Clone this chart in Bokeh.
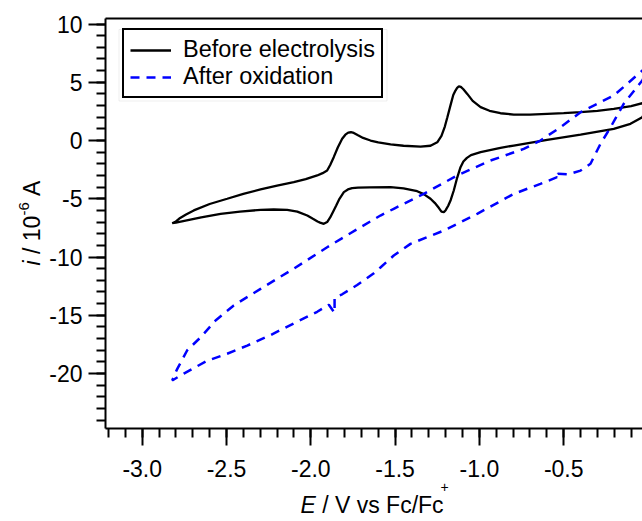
import math
from bokeh.plotting import figure
from bokeh.models import (Range1d, FixedTicker, LinearAxis, Label, BoxAnnotation,
                          CustomJSTickFormatter)
from bokeh.embed import file_html
from bokeh.resources import INLINE

# ---- data: cyclic voltammograms (E in V vs Fc/Fc+, i in 1e-6 A) ----
before_E = [0.02, -0.034, -0.104, -0.203, -0.40, -0.598, -0.796, -0.875, -0.993,
            -1.050, -1.074, -1.095, -1.112, -1.132, -1.152, -1.170, -1.185, -1.200,
            -1.211, -1.225, -1.240, -1.265, -1.290, -1.330, -1.369, -1.45, -1.527,
            -1.65, -1.720, -1.755, -1.780, -1.804, -1.830, -1.850, -1.864, -1.885,
            -1.903, -1.923, -1.945, -1.96, -1.990, -2.021, -2.08, -2.14, -2.22,
            -2.298, -2.42, -2.535, -2.65, -2.75, -2.80, -2.822,
            -2.80, -2.78, -2.74, -2.694, -2.60, -2.496, -2.40, -2.298, -2.20, -2.101,
            -2.03, -1.962, -1.930, -1.903, -1.885, -1.864, -1.840, -1.814, -1.795,
            -1.778, -1.762, -1.745, -1.720, -1.690, -1.646, -1.60, -1.527, -1.45,
            -1.349, -1.29, -1.25, -1.225, -1.205, -1.19, -1.170, -1.155, -1.142,
            -1.132, -1.122, -1.110, -1.095, -1.072, -1.04, -0.993, -0.94, -0.875,
            -0.796, -0.70, -0.598, -0.50, -0.40, -0.30, -0.203, -0.10, -0.034, 0.02]
before_i = [3.35, 2.00, 1.43, 1.00, 0.51, 0.06, -0.43, -0.63, -1.00,
            -1.25, -1.49, -1.80, -2.29, -3.20, -4.29, -5.10, -5.60, -5.98,
            -6.15, -6.10, -5.80, -5.35, -5.00, -4.60, -4.35, -4.10, -4.00,
            -4.02, -4.05, -4.09, -4.20, -4.43, -5.00, -5.60, -6.00, -6.60,
            -7.00, -7.15, -7.05, -6.95, -6.70, -6.44, -6.10, -5.95, -5.92,
            -5.95, -6.10, -6.29, -6.60, -6.90, -7.05, -7.10,
            -6.95, -6.70, -6.35, -6.00, -5.45, -5.00, -4.58, -4.20, -3.88, -3.58,
            -3.32, -3.00, -2.80, -2.58, -2.10, -1.43, -0.60, 0.15, 0.50,
            0.68, 0.71, 0.65, 0.45, 0.22, 0.00, -0.15, -0.34, -0.45,
            -0.52, -0.45, -0.15, 0.40, 1.20, 2.00, 3.10, 3.90, 4.29,
            4.52, 4.64, 4.60, 4.40, 4.00, 3.40, 2.86, 2.55, 2.34,
            2.23, 2.22, 2.29, 2.35, 2.43, 2.55, 2.72, 2.95, 3.20, 3.35]

after_E = [0.02, -0.034, -0.144, -0.222, -0.282, -0.341, -0.40, -0.47, -0.535,
           -0.537, -0.539, -0.638, -0.796, -1.013, -1.211, -1.409, -1.508, -1.587,
           -1.626, -1.725, -1.814, -1.847, -1.859, -1.859, -1.893, -1.962, -2.101,
           -2.239, -2.377, -2.496, -2.614, -2.753, -2.822,
           -2.805, -2.792, -2.733, -2.654, -2.565, -2.457, -2.298, -2.101, -1.903,
           -1.705, -1.587, -1.508, -1.33, -1.132, -0.934, -0.737, -0.638, -0.519,
           -0.40, -0.203, -0.034, 0.02]
after_i = [6.60, 5.15, 3.15, 1.14, -0.29, -2.00, -2.58, -2.90, -2.85,
           -3.30, -3.15, -3.72, -4.58, -6.29, -7.73, -8.87, -9.87, -10.90,
           -11.40, -12.40, -13.20, -13.40, -13.50, -14.80, -14.10, -14.70, -15.70,
           -16.70, -17.60, -18.30, -18.90, -20.00, -20.60,
           -20.00, -19.60, -18.00, -16.90, -15.45, -14.16, -12.73, -11.00, -9.16,
           -7.44, -6.44, -5.86, -4.58, -3.00, -1.72, -0.72, 0.00, 1.14,
           2.43, 3.86, 6.00, 6.60]

series_names = ["Before electrolysis", "After oxidation"]

x_major = [-3.0, -2.5, -2.0, -1.5, -1.0, -0.5]
x_minor = [round(-3.2 + 0.1 * k, 1) for k in range(32)]
y_major = [10, 5, 0, -5, -10, -15, -20]
y_minor = list(range(-24, 11))

# ---- canvas geometry ----
# The frame fills the whole canvas; the axes sit at fixed locations so that the
# axis titles can be composed from separately styled text pieces.
W, H = 642, 521
XA, XB = -3.8405, -0.0326      # x at canvas px 0 and px W
YA, YB = -32.70, 12.017        # y at canvas px H and px 0
FONT = "Liberation Sans"


def px_x(px):
    return XA + px / W * (XB - XA)


def px_y(py):
    return YB - py / H * (YB - YA)


X_LEFT, X_RIGHT = px_x(105), XB
Y_TOP, Y_BOTTOM = px_y(18), px_y(428)

p = figure(width=W, height=H, output_backend="svg", toolbar_location=None,
           x_range=Range1d(XA, XB), y_range=Range1d(YA, YB),
           min_border=0, min_border_left=0, min_border_right=0,
           min_border_top=0, min_border_bottom=0,
           outline_line_color=None, background_fill_color="white",
           border_fill_color="white")
p.grid.visible = False

p.line(before_E, before_i, line_color="black", line_width=2.3,
       legend_label=series_names[0])
p.line(after_E, after_i, line_color="#0000ff", line_width=2.5, line_dash="9 7",
       legend_label=series_names[1])

xax, yax = p.xaxis[0], p.yaxis[0]
xax.fixed_location = Y_BOTTOM
xax.bounds = (X_LEFT, X_RIGHT)
yax.fixed_location = X_LEFT
yax.bounds = (Y_BOTTOM, Y_TOP)

for ax in (xax, yax):
    ax.axis_line_width = 2
    ax.axis_line_color = "black"
    ax.major_tick_line_width = 2
    ax.minor_tick_line_width = 2
    ax.major_tick_in = 0
    ax.minor_tick_in = 0
    ax.major_tick_out = 17
    ax.minor_tick_out = 9
    ax.major_label_text_font = FONT
    ax.major_label_text_font_size = "23px"
    ax.major_label_text_color = "black"

xax.ticker = FixedTicker(ticks=x_major, minor_ticks=x_minor)
yax.ticker = FixedTicker(ticks=y_major, minor_ticks=y_minor)
xax.formatter = CustomJSTickFormatter(code="return tick.toFixed(1);")
yax.formatter = CustomJSTickFormatter(code="return tick.toFixed(0);")
xax.major_label_standoff = 14
yax.major_label_standoff = 6

top_axis = LinearAxis(ticker=FixedTicker(ticks=[]), axis_line_width=2,
                      axis_line_color="black", major_tick_line_color=None,
                      minor_tick_line_color=None, major_label_text_color=None,
                      major_tick_out=0, minor_tick_out=0,
                      fixed_location=Y_TOP, bounds=(X_LEFT, X_RIGHT))
p.add_layout(top_axis, "above")

# ---- legend (location is its bottom-left corner, measured from the bottom) ----
LEGEND_H = 66
lg = p.legend[0]
lg.location = (122, H - 32 - LEGEND_H)
lg.margin = 0
lg.padding = 6
lg.spacing = 0
lg.glyph_width = 41
lg.glyph_height = 20
lg.label_height = 20
lg.label_standoff = 12
lg.label_text_font = FONT
lg.label_text_font_size = "23.5px"
lg.label_text_color = "black"
lg.border_line_color = "black"
lg.border_line_alpha = 1.0
lg.border_line_width = 2.5
lg.background_fill_color = "white"
lg.background_fill_alpha = 1.0

p.add_layout(BoxAnnotation(left=px_x(118.5), right=px_x(386.5), top=px_y(29),
                           bottom=px_y(100.5), fill_alpha=0, line_color="#c8c8c8",
                           line_width=1, level="underlay"))

# ---- axis titles built from styled pieces ----
def piece(text, px, py, size="23px", style="normal", angle=0.0):
    p.add_layout(Label(x=px_x(px), y=px_y(py), text=text, text_font=FONT,
                       text_font_size=size, text_font_style=style,
                       text_color="black", text_align="left",
                       text_baseline="alphabetic", angle=angle))

piece("E", 300, 504, style="italic")
piece("/ V vs Fc/Fc", 321.7, 504)
piece("+", 440, 486, size="14px")

up = math.pi / 2
piece("i", 31, 265, style="italic", angle=up)
piece("/ 10", 31, 253.5, angle=up)
piece("-6", 23, 215.1, size="15px", angle=up)
piece("A", 31, 195.4, angle=up)

open("out.html", "w").write(file_html(p, INLINE))
